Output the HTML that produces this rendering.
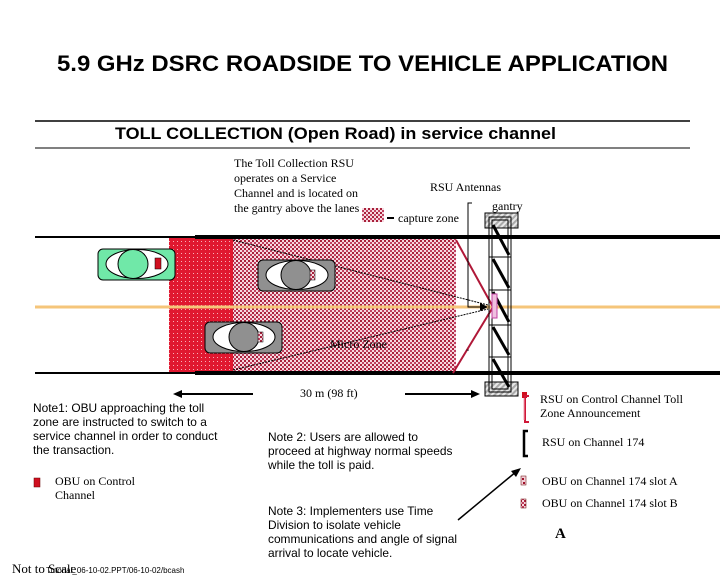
<!DOCTYPE html>
<html><head><meta charset="utf-8"><style>
body{margin:0;background:#fff}
svg{display:block}
.s{font-family:"Liberation Serif",serif;font-size:12px;fill:#000}
.a{font-family:"Liberation Sans",sans-serif;font-size:11.9px;fill:#000}
</style></head><body>
<svg width="720" height="576" viewBox="0 0 720 576" xmlns="http://www.w3.org/2000/svg">
<defs>
<pattern id="chk" width="4" height="4" patternUnits="userSpaceOnUse">
<rect width="4" height="4" fill="#f6d8e0"/><rect width="2" height="2" fill="#a8203a"/><rect x="2" y="2" width="2" height="2" fill="#c04060"/>
</pattern>
<pattern id="dot" width="4" height="4" patternUnits="userSpaceOnUse">
<rect width="4" height="4" fill="#e01830"/><rect x="1" y="1" width="1" height="1" fill="#f8b0b8"/>
</pattern>
<pattern id="hat" width="4" height="4" patternUnits="userSpaceOnUse" patternTransform="rotate(45)">
<rect width="4" height="4" fill="#e8e8e8"/><rect width="2" height="4" fill="#aaa"/>
</pattern>
</defs>
<text x="57" y="71" font-family="Liberation Sans,sans-serif" font-weight="bold" font-size="22" textLength="611" lengthAdjust="spacingAndGlyphs">5.9 GHz DSRC ROADSIDE TO VEHICLE APPLICATION</text>
<line x1="35" y1="121" x2="690" y2="121" stroke="#000" stroke-width="1.5"/>
<line x1="35" y1="148" x2="690" y2="148" stroke="#000" stroke-width="1"/>
<text x="115" y="139" font-family="Liberation Sans,sans-serif" font-weight="bold" font-size="16.5" textLength="441" lengthAdjust="spacingAndGlyphs">TOLL COLLECTION (Open Road) in service channel</text>
<text class="s" x="234" y="167">The Toll Collection RSU</text>
<text class="s" x="234" y="182">operates on a Service</text>
<text class="s" x="234" y="197">Channel and is located on</text>
<text class="s" x="234" y="212">the gantry above the lanes</text>
<text class="s" x="430" y="191">RSU Antennas</text>
<text class="s" x="492" y="210">gantry</text>
<rect x="362" y="208" width="22" height="14" fill="url(#chk)"/>
<line x1="387" y1="218" x2="394" y2="218" stroke="#000" stroke-width="2"/>
<text class="s" x="398" y="222">capture zone</text>
<rect x="169" y="238" width="64" height="135" fill="url(#dot)"/>
<rect x="233" y="239" width="223" height="133" fill="url(#chk)"/>
<line x1="35" y1="237" x2="720" y2="237" stroke="#000" stroke-width="2"/>
<line x1="195" y1="237" x2="720" y2="237" stroke="#000" stroke-width="4"/>
<line x1="35" y1="373" x2="720" y2="373" stroke="#000" stroke-width="2"/>
<line x1="195" y1="373" x2="720" y2="373" stroke="#000" stroke-width="4"/>
<line x1="35" y1="307" x2="720" y2="307" stroke="#f5c57a" stroke-width="3"/>
<line x1="233" y1="240" x2="488" y2="305" stroke="#000" stroke-width="1" stroke-dasharray="2,1"/>
<line x1="233" y1="370" x2="488" y2="309" stroke="#000" stroke-width="1" stroke-dasharray="2,1"/>
<polyline points="456,240 493,307 453,373" fill="none" stroke="#b01838" stroke-width="2"/>
<polyline points="472,203 468,203 468,307 484,307" fill="none" stroke="#000" stroke-width="1"/>
<polygon points="488,307 480,303 480,311" fill="#000"/>
<g>
<rect x="98" y="249" width="77" height="31" rx="5" fill="#70e8a8" stroke="#000"/>
<ellipse cx="137" cy="264" rx="31" ry="14.5" fill="#fff" stroke="#000"/>
<ellipse cx="133" cy="264" rx="15" ry="14.5" fill="#70e8a8" stroke="#000"/>
<rect x="155" y="258" width="6" height="11" fill="#d01020" stroke="#000" stroke-width=".5"/>
</g>
<g>
<rect x="258" y="260" width="77" height="31" rx="5" fill="#909090" stroke="#000"/>
<ellipse cx="297" cy="275" rx="31" ry="14.5" fill="#fff" stroke="#000"/>
<ellipse cx="296" cy="275" rx="15" ry="14.5" fill="#909090" stroke="#000"/>
<rect x="310" y="270" width="5" height="10" fill="url(#chk)" stroke="#000" stroke-width=".5"/>
</g>
<g>
<rect x="205" y="322" width="77" height="31" rx="5" fill="#909090" stroke="#000"/>
<ellipse cx="244" cy="337" rx="31" ry="14.5" fill="#fff" stroke="#000"/>
<ellipse cx="244" cy="337" rx="15" ry="14.5" fill="#909090" stroke="#000"/>
<rect x="258" y="332" width="5" height="10" fill="url(#chk)" stroke="#000" stroke-width=".5"/>
</g>
<text class="s" x="330" y="348" fill="#333">Micro Zone</text>
<rect x="485" y="213" width="33" height="15" fill="url(#hat)" stroke="#000"/>
<rect x="485" y="382" width="33" height="14" fill="url(#hat)" stroke="#000"/>
<rect x="489" y="217" width="22" height="175" fill="none" stroke="#000"/>
<rect x="492" y="220" width="16" height="169" fill="none" stroke="#000"/>
<g stroke="#000" stroke-width="1">
<line x1="489" y1="257" x2="511" y2="257"/><line x1="489" y1="290" x2="511" y2="290"/>
<line x1="489" y1="325" x2="511" y2="325"/><line x1="489" y1="357" x2="511" y2="357"/>
</g>
<g stroke="#000" stroke-width="3">
<line x1="493" y1="225" x2="509" y2="255"/><line x1="493" y1="259" x2="509" y2="288"/>
<line x1="493" y1="292" x2="509" y2="322"/><line x1="493" y1="327" x2="509" y2="355"/>
<line x1="493" y1="359" x2="509" y2="387"/>
</g>
<rect x="492" y="294" width="5" height="24" fill="#f0c0e0" stroke="#c040a0"/>
<rect x="522" y="392" width="5" height="6" fill="#d01020"/>
<text x="466" y="353" font-size="10" font-family="Liberation Sans,sans-serif">-</text>
<line x1="180" y1="394" x2="253" y2="394" stroke="#000" stroke-width="2"/>
<polygon points="173,394 182,390 182,398" fill="#000"/>
<line x1="405" y1="394" x2="474" y2="394" stroke="#000" stroke-width="2"/>
<polygon points="480,394 471,390 471,398" fill="#000"/>
<text class="s" x="300" y="397">30 m (98 ft)</text>
<text class="a" x="33" y="412">Note1: OBU approaching  the toll</text>
<text class="a" x="33" y="426">zone are instructed to switch to a</text>
<text class="a" x="33" y="440">service channel in order to conduct</text>
<text class="a" x="33" y="454">the transaction.</text>
<rect x="34" y="478" width="6" height="9" fill="#d01020" stroke="#600" stroke-width=".5"/>
<text class="s" x="55" y="485">OBU on Control</text>
<text class="s" x="55" y="499">Channel</text>
<text class="a" x="268" y="441">Note 2: Users are allowed to</text>
<text class="a" x="268" y="455">proceed at highway normal speeds</text>
<text class="a" x="268" y="469">while the toll is paid.</text>
<text class="a" x="268" y="515">Note 3: Implementers use Time</text>
<text class="a" x="268" y="529">Division to isolate vehicle</text>
<text class="a" x="268" y="543">communications and angle of signal</text>
<text class="a" x="268" y="557">arrival to locate vehicle.</text>
<text x="12" y="573" font-family="Liberation Serif,serif" font-size="13">Not to Scale</text>
<text x="46" y="573" font-family="Liberation Sans,sans-serif" font-size="8">Tutorial_06-10-02.PPT/06-10-02/bcash</text>
<path d="M529,396 h-4 v26 h4" fill="none" stroke="#d01838" stroke-width="2"/>
<line x1="524" y1="398" x2="524" y2="420" stroke="#f0a0b0" stroke-width="1"/>
<text class="s" x="540" y="403">RSU on Control Channel Toll</text>
<text class="s" x="540" y="417">Zone Announcement</text>
<path d="M528,431 h-4 v25 h4" fill="none" stroke="#000" stroke-width="2.5"/>
<text class="s" x="542" y="446">RSU on Channel 174</text>
<line x1="458" y1="520" x2="517" y2="471" stroke="#000" stroke-width="1.5"/>
<polygon points="521,468 511,471 516,477" fill="#000"/>
<rect x="521" y="476" width="5" height="9" fill="#f2d0d8" stroke="#600" stroke-width=".5"/>
<rect x="522" y="478" width="2" height="2" fill="#a0102a"/><rect x="523" y="482" width="2" height="2" fill="#a0102a"/>
<text class="s" x="542" y="485">OBU on Channel 174 slot A</text>
<rect x="521" y="499" width="5" height="9" fill="url(#chk)" stroke="#600" stroke-width=".5"/>
<text class="s" x="542" y="507">OBU on Channel 174 slot B</text>
<text x="555" y="538" font-family="Liberation Serif,serif" font-weight="bold" font-size="15">A</text>
</svg>
</body></html>
